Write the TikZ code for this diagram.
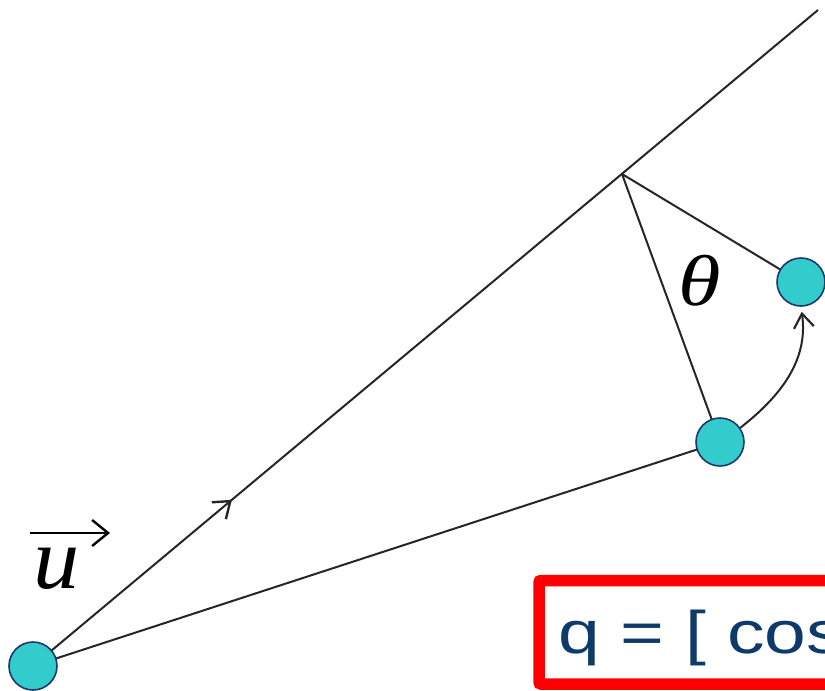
\documentclass[tikz,border=0pt]{standalone}
\usepackage{fontspec}
\setmainfont{Liberation Serif}
\newfontfamily\boxfont{Liberation Sans}
\usetikzlibrary{arrows.meta,decorations.markings}
\definecolor{dotfill}{HTML}{33CCCC}
\definecolor{dotedge}{HTML}{1B3A6B}
\definecolor{qblue}{HTML}{0E3A6A}
\definecolor{boxred}{HTML}{FF0000}
\tikzset{
  dot/.style={circle,fill=dotfill,draw=dotedge,line width=1.6pt,minimum size=48pt,inner sep=0pt},
  thin line/.style={draw=black!85,line width=2pt},
  barb/.style={-{Straight Barb[length=14pt,width=20pt,line width=2.2pt]}},
}
\begin{document}
\begin{tikzpicture}[x=1pt,y=-1pt]
\useasboundingbox (0,0) rectangle (825,691);
% points
\coordinate (a) at (622,174);
\coordinate (e) at (818,10);
% lines (drawn under circles)
\draw[thin line,postaction={decorate},decoration={markings,
  mark=at position 0.2535 with {\arrow{Straight Barb[length=15pt,width=22pt,line width=2.4pt]}}}]
  (33,666) -- (e);
\draw[thin line] (33,666) -- (720,442);
\draw[thin line] (a) -- (720,442);
\draw[thin line] (a) -- (801,282);
% circles
\node[dot] (o) at (33,666) {};
\node[dot] (p) at (720,442) {};
\node[dot] (q) at (801,282) {};
% curved arrow
\draw[thin line,barb,shorten >=5pt] (p.35) to[out=38,in=-82] (q.south);
% labels
\node[font=\fontsize{72}{72}\selectfont\itshape,xscale=1.2,transform shape] (th) at (700,281) {θ};
\node[font=\fontsize{88}{88}\selectfont\itshape,xscale=1.05,transform shape] (u) at (57,569) {u};
\draw[line width=2.4pt,-{Straight Barb[length=16pt,width=26pt,line width=2.4pt]}]
  ([xshift=-27pt,yshift=36pt]u.center) -- ([xshift=53pt,yshift=36pt]u.center);
% red box with formula
\draw[boxred,line width=11.5pt,rounded corners=2pt] (539,580.5) rectangle (900,684);
\node[anchor=base west,font=\boxfont\fontsize{60}{60}\selectfont,text=qblue,inner sep=0pt,xscale=1.25,transform shape] (f) at (558,653) {q = [ cos};
\end{tikzpicture}
\end{document}
